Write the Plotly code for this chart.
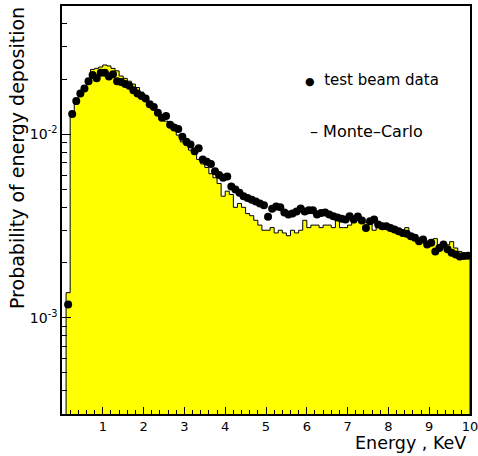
import plotly.graph_objects as go

# Monte-Carlo histogram: bins of 0.1 keV starting at 0.1 keV
mc_bin_low = [round(0.1 * i, 1) for i in range(1, 100)]
mc_values = [
    0.00137, 0.0126, 0.0146, 0.0162, 0.0176, 0.0200, 0.0226, 0.0229, 0.0233,
    0.0239, 0.0236, 0.0229, 0.0222, 0.0208, 0.0202, 0.0195, 0.0188, 0.0180, 0.0170,
    0.0160, 0.0150, 0.0141, 0.0133, 0.0126, 0.0118, 0.0111, 0.0105, 0.0099, 0.0091,
    0.0087, 0.0082, 0.0078, 0.0073, 0.0069, 0.0066, 0.0061, 0.0058, 0.0054, 0.0046,
    0.0049, 0.0047, 0.0040, 0.0042, 0.0040, 0.0037, 0.0036, 0.0034, 0.0032, 0.0030,
    0.0030, 0.0031, 0.0029, 0.0030, 0.0029, 0.0028, 0.0030, 0.0029, 0.0030, 0.0034,
    0.0031, 0.0032, 0.0032, 0.0031, 0.0032, 0.0032, 0.0031, 0.0034, 0.0031, 0.0031,
    0.0032, 0.0033, 0.0034, 0.0033, 0.0033, 0.0034, 0.0030, 0.0032, 0.0031, 0.0031,
    0.0030, 0.0030, 0.0029, 0.0029, 0.0031, 0.0028, 0.0027, 0.0027, 0.0026, 0.0026,
    0.0026, 0.0027, 0.0025, 0.0025, 0.0025, 0.0026, 0.0024, 0.0023, 0.0022, 0.0022,
]
mc_last_edge = 10.0

# Test beam data points (bin centres)
data_energy = [round(0.1 * i + 0.05, 2) for i in range(1, 100)]
data_values = [
    0.00118, 0.0129, 0.0152, 0.0167, 0.0178, 0.0195, 0.0211, 0.0202, 0.0217,
    0.0217, 0.0207, 0.0213, 0.0195, 0.0193, 0.0188, 0.0184, 0.0174, 0.0167, 0.0162,
    0.0157, 0.0146, 0.0141, 0.0131, 0.0123, 0.0126, 0.0113, 0.0109, 0.0107, 0.0097,
    0.0091, 0.0088, 0.0081, 0.0084, 0.0073, 0.0071, 0.0069, 0.0063, 0.0060, 0.0058,
    0.0059, 0.0052, 0.0050, 0.0048, 0.0046, 0.0045, 0.0044, 0.0043, 0.0042, 0.0041,
    0.00355, 0.00393, 0.00404, 0.00400, 0.00375, 0.00366, 0.00370, 0.00380, 0.00394, 0.00380,
    0.00385, 0.00386, 0.00366, 0.00373, 0.00375, 0.00366, 0.00358, 0.00352, 0.00347, 0.00343,
    0.00358, 0.00343, 0.00356, 0.00339, 0.00309, 0.00336, 0.00343, 0.00322, 0.00315, 0.00315,
    0.00309, 0.00303, 0.00296, 0.00290, 0.00287, 0.00278, 0.00273, 0.00261, 0.00267, 0.00251,
    0.00256, 0.00230, 0.00240, 0.00251, 0.00236, 0.00226, 0.00221, 0.00216, 0.00217, 0.00218,
]

x_tick_vals = [1, 2, 3, 4, 5, 6, 7, 8, 9, 10]
y_tick_vals = [1e-3, 1e-2]
y_tick_text = ["10<sup>-3</sup>", "10<sup>-2</sup>"]
y_minor_vals = [m * 10 ** e for e in (-4, -3, -2) for m in range(2, 10)]

FONT = "DejaVu Sans"
Y_FLOOR = 1e-6

# step outline of histogram
step_x = [mc_bin_low[0]] + mc_bin_low + [mc_last_edge, mc_last_edge]
step_y = [Y_FLOOR] + mc_values + [mc_values[-1], Y_FLOOR]

fig = go.Figure()
fig.add_trace(go.Scatter(
    x=step_x, y=step_y, mode="lines", line=dict(shape="hv", color="black", width=1),
    fill="tozeroy", fillcolor="#ffff00", hoverinfo="skip", showlegend=False,
))
fig.add_trace(go.Scatter(
    x=data_energy, y=data_values, mode="markers",
    marker=dict(color="black", size=8, symbol="circle"), showlegend=False,
))

fig.update_layout(
    width=478, height=456,
    margin=dict(l=62, r=8, t=6, b=42),
    paper_bgcolor="white", plot_bgcolor="white",
    font=dict(family=FONT, color="black", size=13),
    showlegend=False,
)
fig.update_xaxes(
    range=[0, 10], showgrid=False, zeroline=False, automargin=False,
    showline=True, linecolor="black", linewidth=1.5, mirror=True,
    ticks="inside", ticklen=7, tickcolor="black",
    tickvals=x_tick_vals, ticktext=[str(v) for v in x_tick_vals],
    tickfont=dict(size=13), ticklabeloverflow="allow",
    minor=dict(ticks="inside", ticklen=4, dtick=0.2, tick0=0, tickcolor="black"),
)
fig.update_yaxes(
    type="log", range=[-3.525, -1.30], showgrid=False, zeroline=False, automargin=False,
    showline=True, linecolor="black", linewidth=1.5, mirror=True,
    ticks="inside", ticklen=9, tickcolor="black",
    tickvals=y_tick_vals, ticktext=y_tick_text, tickfont=dict(size=14),
    ticklabelstandoff=0,
    minor=dict(ticks="inside", ticklen=5, tickvals=y_minor_vals, tickcolor="black"),
)

fig.add_annotation(
    text="Probability of energy deposition", textangle=-90,
    xref="paper", yref="paper", x=0, y=(414 - 158) / 408,
    xshift=-45, xanchor="center", yanchor="middle", showarrow=False,
    font=dict(size=19, family=FONT),
)
fig.add_annotation(
    text="Energy , KeV", xref="paper", yref="paper", x=1, y=0,
    xshift=-2, yshift=-29, xanchor="right", yanchor="middle", showarrow=False,
    font=dict(size=17.5, family=FONT),
)
fig.add_annotation(
    text="<span style='font-size:11px'>\u25cf</span>  test beam data",
    xref="paper", yref="paper",
    x=(303 - 62) / 408, y=(414 - 80) / 408, xanchor="left", yanchor="middle",
    showarrow=False, font=dict(size=15, family=FONT),
)
fig.add_annotation(
    text="\u2013 Monte\u2013Carlo", xref="paper", yref="paper",
    x=(308 - 62) / 408, y=(414 - 131) / 408, xanchor="left", yanchor="middle",
    showarrow=False, font=dict(size=16, family=FONT),
)

fig.write_html("out.html", config={"displayModeBar": False},
               post_script="document.body.style.margin='0';")
